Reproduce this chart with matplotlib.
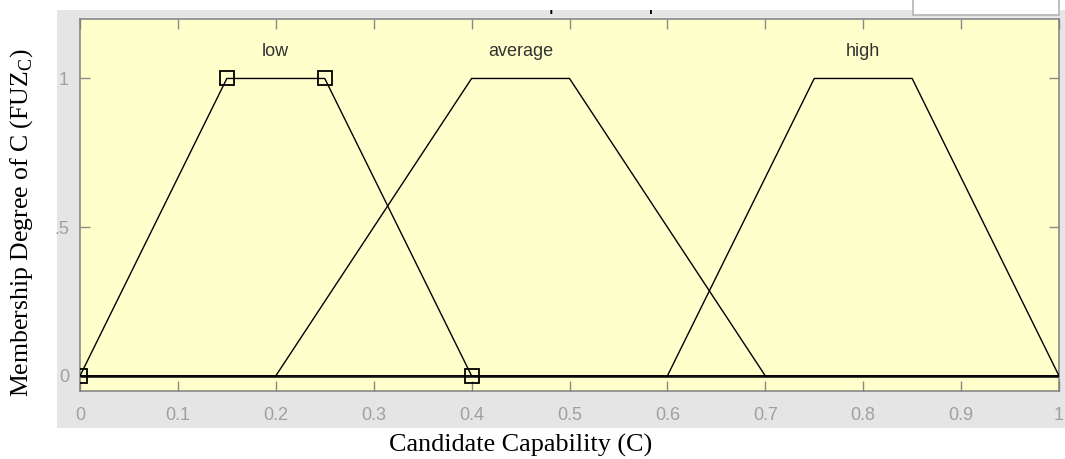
import numpy as np
import matplotlib.pyplot as plt
from matplotlib.patches import Rectangle

plt.rcParams['mathtext.fontset'] = 'custom'
plt.rcParams['mathtext.rm'] = 'Liberation Serif'

# trapezoidal membership functions of C, params [a, b, c, d]
mf_names = ['low', 'average', 'high']
mf_params = [[0.0, 0.15, 0.25, 0.4],
             [0.2, 0.4, 0.5, 0.7],
             [0.6, 0.75, 0.85, 1.0]]
selected = 'low'

x_range = [0.0, 1.0]
x_ticks = np.round(np.arange(0, 1.01, 0.1), 1)
x_ticklabels = ['0', '0.1', '0.2', '0.3', '0.4', '0.5', '0.6', '0.7', '0.8', '0.9', '1']
y_ticks = [0, 0.5, 1]
y_ticklabels = ['0', '.5', '1']

W, H = 1065, 459
fig = plt.figure(figsize=(W / 100, H / 100), dpi=100)
fig.patch.set_facecolor('white')

def px(x0, y0, w, h):
    # pixel box (from top-left) -> figure fraction rect
    return (x0 / W, 1 - (y0 + h) / H, w / W, h / H)

# grey panel behind the axes
bx = px(57, 9, W - 57, 428 - 9)
fig.patches.append(Rectangle(bx[:2], bx[2], bx[3], transform=fig.transFigure,
                             facecolor='#e5e5e5', edgecolor='none', zorder=-2))

# panel title, mostly hidden above the panel edge
fig.text(568 / W, 1 - 9 / H, 'Membership function plots', ha='center', va='baseline',
         fontsize=15.6, family='Liberation Sans', color='black', zorder=1)
cv = px(0, -5, W, 14.5)
fig.patches.append(Rectangle(cv[:2], cv[2], cv[3], transform=fig.transFigure,
                             facecolor='white', edgecolor='none', zorder=2))
pb = px(913, -5, 146, 19.5)
fig.patches.append(Rectangle(pb[:2], pb[2], pb[3], transform=fig.transFigure,
                             facecolor='white', edgecolor='#b4b4b4', lw=1.2, zorder=3))

ax = fig.add_axes(px(80, 19, 979, 371.7))
ax.set_facecolor('#ffffcc')

ax.axhline(0, color='#2a2a2a', lw=2.0, zorder=2)
for name, (a, b, c, d) in zip(mf_names, mf_params):
    xs = [x_range[0], a, b, c, d, x_range[1]]
    ys = [0, 0, 1, 1, 0, 0]
    ax.plot(xs, ys, color='black', lw=1.0, zorder=3)
    if name == selected:
        ax.plot([a, b, c, d], [0, 1, 1, 0], ls='none', marker='s', ms=10,
                mfc='none', mec='black', mew=1.3, zorder=4)
    ax.text((b + c) / 2, 1.09, name, ha='center', va='center', fontsize=13,
            family='Liberation Sans', color='#333333')

ax.set_xlim(x_range)
ax.set_ylim(-0.05, 1.2)
ax.set_xticks(x_ticks)
ax.set_xticklabels(x_ticklabels)
ax.set_yticks(y_ticks)
ax.set_yticklabels(y_ticklabels)
ax.tick_params(axis='both', direction='in', length=7, width=1, color='#8a8a8a',
               labelcolor='#a0a0a0', labelsize=13, top=True, right=True)
ax.tick_params(axis='x', pad=12)
ax.tick_params(axis='y', pad=8)
for lab in ax.get_xticklabels() + ax.get_yticklabels():
    lab.set_family('Liberation Sans')
for sp in ax.spines.values():
    sp.set_color('#808080')
    sp.set_linewidth(1.1)

fig.text(521 / W, 1 - 452 / H, 'Candidate Capability (C)', ha='center', va='baseline',
         fontsize=18.8, family='Liberation Serif', color='black')
fig.text(22 / W, 1 - 223 / H, r'Membership Degree of C (FUZ$_{\mathrm{C}}$)',
         rotation=90, ha='center', va='center', fontsize=18.5,
         family='Liberation Serif', color='black')

fig.savefig('out.png', dpi=100, facecolor='white')
